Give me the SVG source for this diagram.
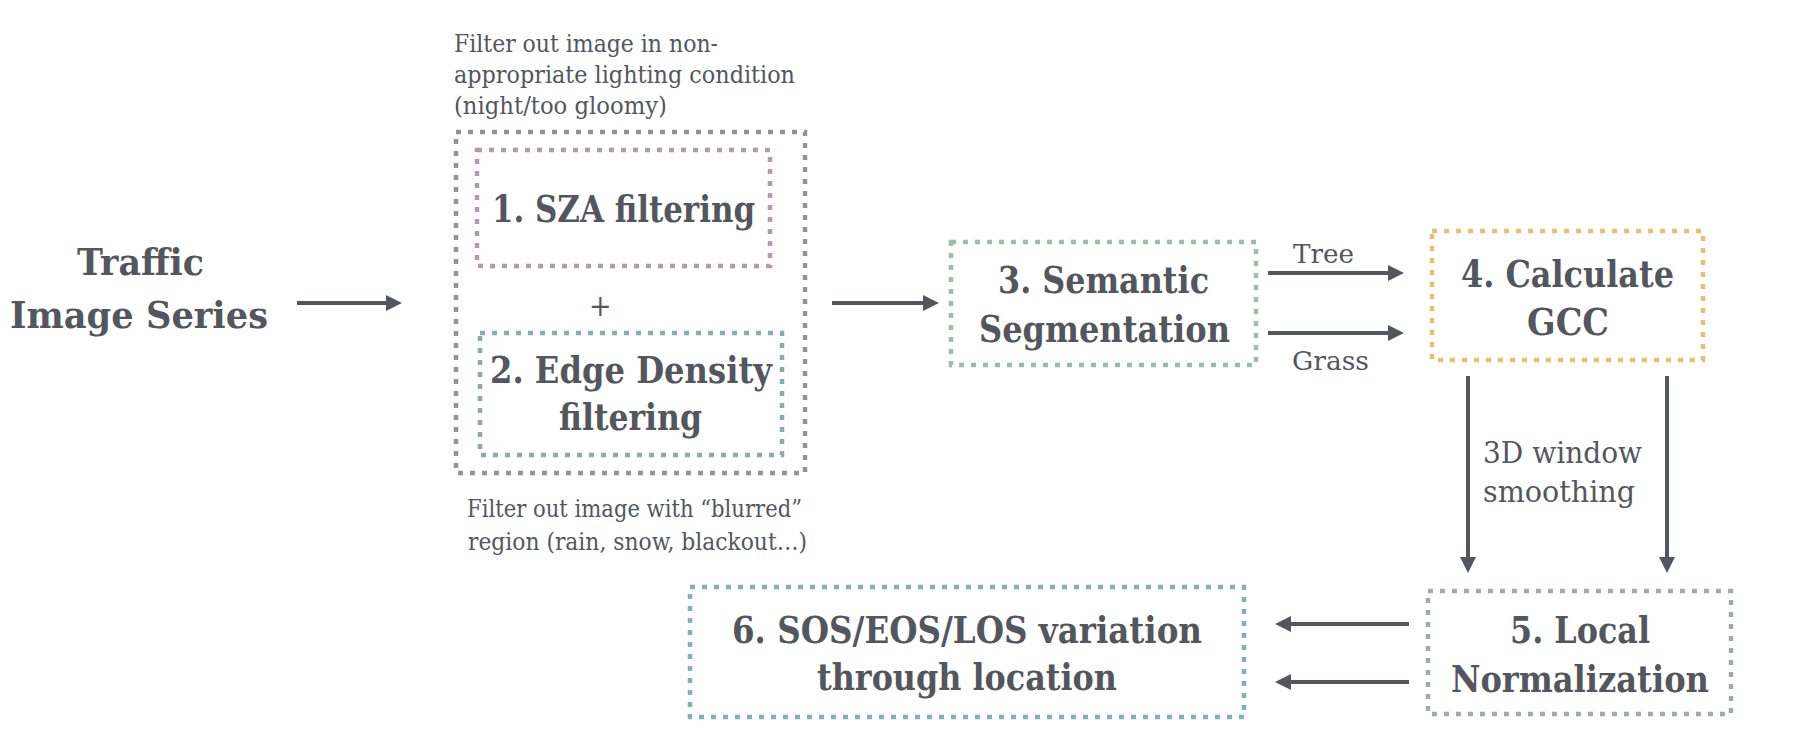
<svg xmlns="http://www.w3.org/2000/svg" width="1802" height="754" viewBox="0 0 1802 754">
<style>
.box{fill:none;stroke-width:4.5;stroke-dasharray:5 7}
.b{font-family:'DejaVu Serif Condensed','DejaVu Serif',serif;font-stretch:condensed;font-weight:bold;font-size:37px;fill:#53575d}
.r{font-family:'DejaVu Serif Condensed','DejaVu Serif',serif;font-stretch:condensed;font-weight:normal;fill:#53575d}
.conn line{stroke:#53575d;stroke-width:4;marker-end:url(#ah)}
</style>
<defs>
<marker id="ah" markerUnits="userSpaceOnUse" markerWidth="16" markerHeight="16" refX="2" refY="8" orient="auto"><path d="M0,0 L16,8 L0,16 z" fill="#53575d"/></marker>
</defs>
<rect width="1802" height="754" fill="#ffffff"/>

<g id="traffic">
<text class="b" x="77" y="275" textLength="127" lengthAdjust="spacingAndGlyphs">Traffic</text>
<text class="b" x="10" y="328" textLength="258" lengthAdjust="spacingAndGlyphs">Image Series</text>
</g>

<g id="filters">
<rect class="box" x="456" y="132" width="349" height="341" stroke="#939393"/>
<text class="r" font-size="24" x="454" y="52" textLength="264" lengthAdjust="spacingAndGlyphs">Filter out image in non-</text>
<text class="r" font-size="24" x="454" y="83" textLength="341" lengthAdjust="spacingAndGlyphs">appropriate lighting condition</text>
<text class="r" font-size="24" x="454" y="114" textLength="213" lengthAdjust="spacingAndGlyphs">(night/too gloomy)</text>
<text class="r" font-size="30" x="589" y="316">+</text>
<text class="r" font-size="24" x="467" y="517" textLength="335" lengthAdjust="spacingAndGlyphs">Filter out image with “blurred”</text>
<text class="r" font-size="24" x="468" y="550" textLength="339" lengthAdjust="spacingAndGlyphs">region (rain, snow, blackout…)</text>
</g>

<g id="sza">
<rect class="box" x="477" y="150" width="293" height="116" stroke="#b399b0"/>
<text class="b" x="492" y="222" textLength="263" lengthAdjust="spacingAndGlyphs">1. SZA filtering</text>
</g>

<g id="edge">
<rect class="box" x="480" y="333" width="302" height="122" stroke="#8ea8b0"/>
<text class="b" x="490" y="383" textLength="282" lengthAdjust="spacingAndGlyphs">2. Edge Density</text>
<text class="b" x="559" y="430" textLength="143" lengthAdjust="spacingAndGlyphs">filtering</text>
</g>

<g id="semantic">
<rect class="box" x="951" y="242" width="305" height="123" stroke="#9fbda6"/>
<text class="b" x="998" y="293" textLength="211" lengthAdjust="spacingAndGlyphs">3. Semantic</text>
<text class="b" x="979" y="342" textLength="251" lengthAdjust="spacingAndGlyphs">Segmentation</text>
</g>

<g id="gcc">
<rect class="box" x="1432" y="231" width="271" height="129" stroke="#e8c070"/>
<text class="b" x="1461" y="287" textLength="213" lengthAdjust="spacingAndGlyphs">4. Calculate</text>
<text class="b" x="1527" y="335" textLength="82" lengthAdjust="spacingAndGlyphs">GCC</text>
</g>

<g id="localnorm">
<rect class="box" x="1428" y="591" width="303" height="123" stroke="#a3a8b5"/>
<text class="b" x="1510" y="643" textLength="140" lengthAdjust="spacingAndGlyphs">5. Local</text>
<text class="b" x="1451" y="692" textLength="258" lengthAdjust="spacingAndGlyphs">Normalization</text>
</g>

<g id="sos">
<rect class="box" x="690" y="587" width="554" height="130" stroke="#7fb3b8"/>
<text class="b" x="732" y="643" textLength="470" lengthAdjust="spacingAndGlyphs">6. SOS/EOS/LOS variation</text>
<text class="b" x="817" y="690" textLength="300" lengthAdjust="spacingAndGlyphs">through location</text>
</g>

<g id="connectors" class="conn">
<line x1="297" y1="303" x2="388" y2="303"/>
<line x1="832" y1="303" x2="925" y2="303"/>
<line x1="1268" y1="273" x2="1390" y2="273"/>
<line x1="1268" y1="333" x2="1390" y2="333"/>
<line x1="1468" y1="376" x2="1468" y2="559"/>
<line x1="1667" y1="376" x2="1667" y2="559"/>
<line x1="1409" y1="624" x2="1289" y2="624"/>
<line x1="1409" y1="682" x2="1289" y2="682"/>
</g>

<g id="connector-labels">
<text class="r" font-size="26" x="1293" y="263" textLength="61" lengthAdjust="spacingAndGlyphs">Tree</text>
<text class="r" font-size="26" x="1292" y="370" textLength="77" lengthAdjust="spacingAndGlyphs">Grass</text>
<text class="r" font-size="29" x="1483" y="463" textLength="159" lengthAdjust="spacingAndGlyphs">3D window</text>
<text class="r" font-size="29" x="1483" y="502" textLength="152" lengthAdjust="spacingAndGlyphs">smoothing</text>
</g>
</svg>
